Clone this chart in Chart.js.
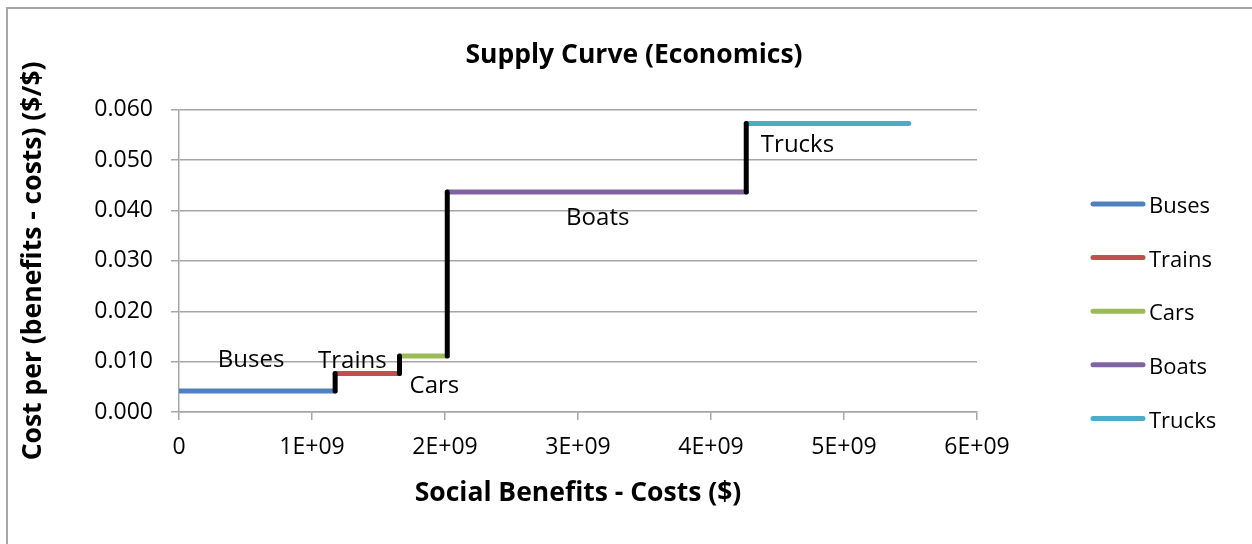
<!DOCTYPE html>
<html>
<head>
<meta charset="utf-8">
<script src="https://cdn.jsdelivr.net/npm/chart.js@4/dist/chart.umd.min.js"></script>
<style>
  html, body { margin: 0; padding: 0; background: #fff; overflow: hidden; }
  .frame { position: absolute; left: 6px; top: 7px; width: 1400px; height: 700px;
           border-left: 2px solid #a6a6a6; border-top: 2px solid #a6a6a6; }
  #chart { position: absolute; left: 0; top: 0; }
</style>
</head>
<body>
<div class="frame"></div>
<canvas id="chart" width="1252" height="544"></canvas>
<script>
/* Supply curve: step chart of cost per net social benefit, by transport mode */

const categories = ["Buses", "Trains", "Cars", "Boats", "Trucks"];
// cumulative social benefits - costs ($) where each mode's step starts / ends
const boundaries = [0, 1.174e9, 1.658e9, 2.017e9, 4.265e9, 5.487e9];
// cost per (benefits - costs), $/$
const costPer = [0.00417, 0.00762, 0.0111, 0.0437, 0.0573];
const xTickLabels = ["0", "1E+09", "2E+09", "3E+09", "4E+09", "5E+09", "6E+09"];
const yTickLabels = ["0.000", "0.010", "0.020", "0.030", "0.040", "0.050", "0.060"];

const colors = ["#4F81BD", "#C0504D", "#9BBB59", "#8064A2", "#4BACC6"];
// label nudges in px from the middle of each step (Excel labels were hand-placed)
const labelNudge = [[-6, -24], [-15, -6], [11, 37], [1, 33], [-30, 29]];

const FONT = "'Open Sans'";
const GRID = "#a6a6a6";

const segments = categories.map((name, i) => ({
  label: name,
  data: [{ x: boundaries[i], y: costPer[i] }, { x: boundaries[i + 1], y: costPer[i] }],
  borderColor: colors[i],
  backgroundColor: colors[i],
  borderWidth: 5,
  borderCapStyle: "round",
  showLine: true,
  pointRadius: 0,
  order: 1,
}));

// black risers between steps
const risers = categories.slice(0, -1).map((name, i) => ({
  label: "riser" + i,
  data: [{ x: boundaries[i + 1], y: costPer[i] }, { x: boundaries[i + 1], y: costPer[i + 1] }],
  borderColor: "#000",
  borderWidth: 5,
  borderCapStyle: "round",
  showLine: true,
  pointRadius: 0,
  order: 0,
}));

const stepLabels = {
  id: "stepLabels",
  afterDatasetsDraw(chart) {
    const { ctx, scales: { x, y } } = chart;
    ctx.save();
    ctx.font = `24px ${FONT}`;
    ctx.fillStyle = "#000";
    ctx.textAlign = "center";
    ctx.textBaseline = "alphabetic";
    categories.forEach((name, i) => {
      const px = (x.getPixelForValue(boundaries[i]) + x.getPixelForValue(boundaries[i + 1])) / 2;
      const py = y.getPixelForValue(costPer[i]);
      ctx.fillText(name, px + labelNudge[i][0], py + labelNudge[i][1]);
    });
    ctx.restore();
  },
};

const sideLegend = {
  id: "sideLegend",
  afterDraw(chart, args, opts) {
    const ctx = chart.ctx;
    ctx.save();
    ctx.font = `22px ${FONT}`;
    ctx.textBaseline = "middle";
    ctx.textAlign = "left";
    chart.data.datasets.filter((ds) => categories.includes(ds.label)).forEach((ds, i) => {
      const cy = opts.top + i * opts.step;
      ctx.strokeStyle = ds.borderColor;
      ctx.lineWidth = 5;
      ctx.lineCap = "round";
      ctx.beginPath();
      ctx.moveTo(opts.left, cy);
      ctx.lineTo(opts.left + opts.lineLen, cy);
      ctx.stroke();
      ctx.fillStyle = "#000";
      ctx.fillText(ds.label, opts.left + opts.lineLen + 6, cy + 3);
    });
    ctx.restore();
  },
};

new Chart(document.getElementById("chart"), {
  type: "scatter",
  data: { datasets: [...risers, ...segments] },
  plugins: [stepLabels, sideLegend],
  options: {
    responsive: false,
    animation: false,
    layout: { padding: { left: 16, right: 0, top: 0, bottom: 0 } },
    plugins: {
      legend: { display: false },
      tooltip: { enabled: false },
      title: {
        display: true,
        text: "Supply Curve (Economics)",
        color: "#000",
        font: { family: FONT, size: 26.5, weight: "bold" },
        padding: { top: 40, bottom: 38 },
      },
      sideLegend: { left: 1093, top: 204, step: 53.6, lineLen: 50 },
    },
    scales: {
      x: {
        type: "linear",
        min: 0, max: 6e9,
        afterFit: (s) => { s.height = 132; s.paddingRight = 275; },
        ticks: {
          stepSize: 1e9,
          color: "#000",
          padding: 14,
          font: { family: FONT, size: 23 },
          callback: (v) => xTickLabels[Math.round(v / 1e9)],
        },
        grid: { drawOnChartArea: false, drawTicks: true, tickLength: 8, color: GRID, lineWidth: 1.5 },
        border: { color: GRID, width: 1.5 },
        title: {
          display: true,
          text: "Social Benefits - Costs ($)",
          color: "#000",
          font: { family: FONT, size: 26.5, weight: "bold" },
          padding: { top: 4, bottom: 35 },
        },
      },
      y: {
        type: "linear",
        min: 0, max: 0.06,
        afterFit: (s) => { s.width = 163; },
        ticks: {
          stepSize: 0.01,
          color: "#000",
          padding: 18,
          font: { family: FONT, size: 23 },
          callback: (v) => yTickLabels[Math.round(v / 0.01)],
        },
        grid: { color: GRID, lineWidth: 1.5, tickLength: 8 },
        border: { color: GRID, width: 1.5 },
        title: {
          display: true,
          text: "Cost per (benefits - costs) ($/$)",
          color: "#000",
          font: { family: FONT, size: 26.5, weight: "bold" },
          padding: { top: 2, bottom: 4 },
        },
      },
    },
  },
});
</script>
</body>
</html>
